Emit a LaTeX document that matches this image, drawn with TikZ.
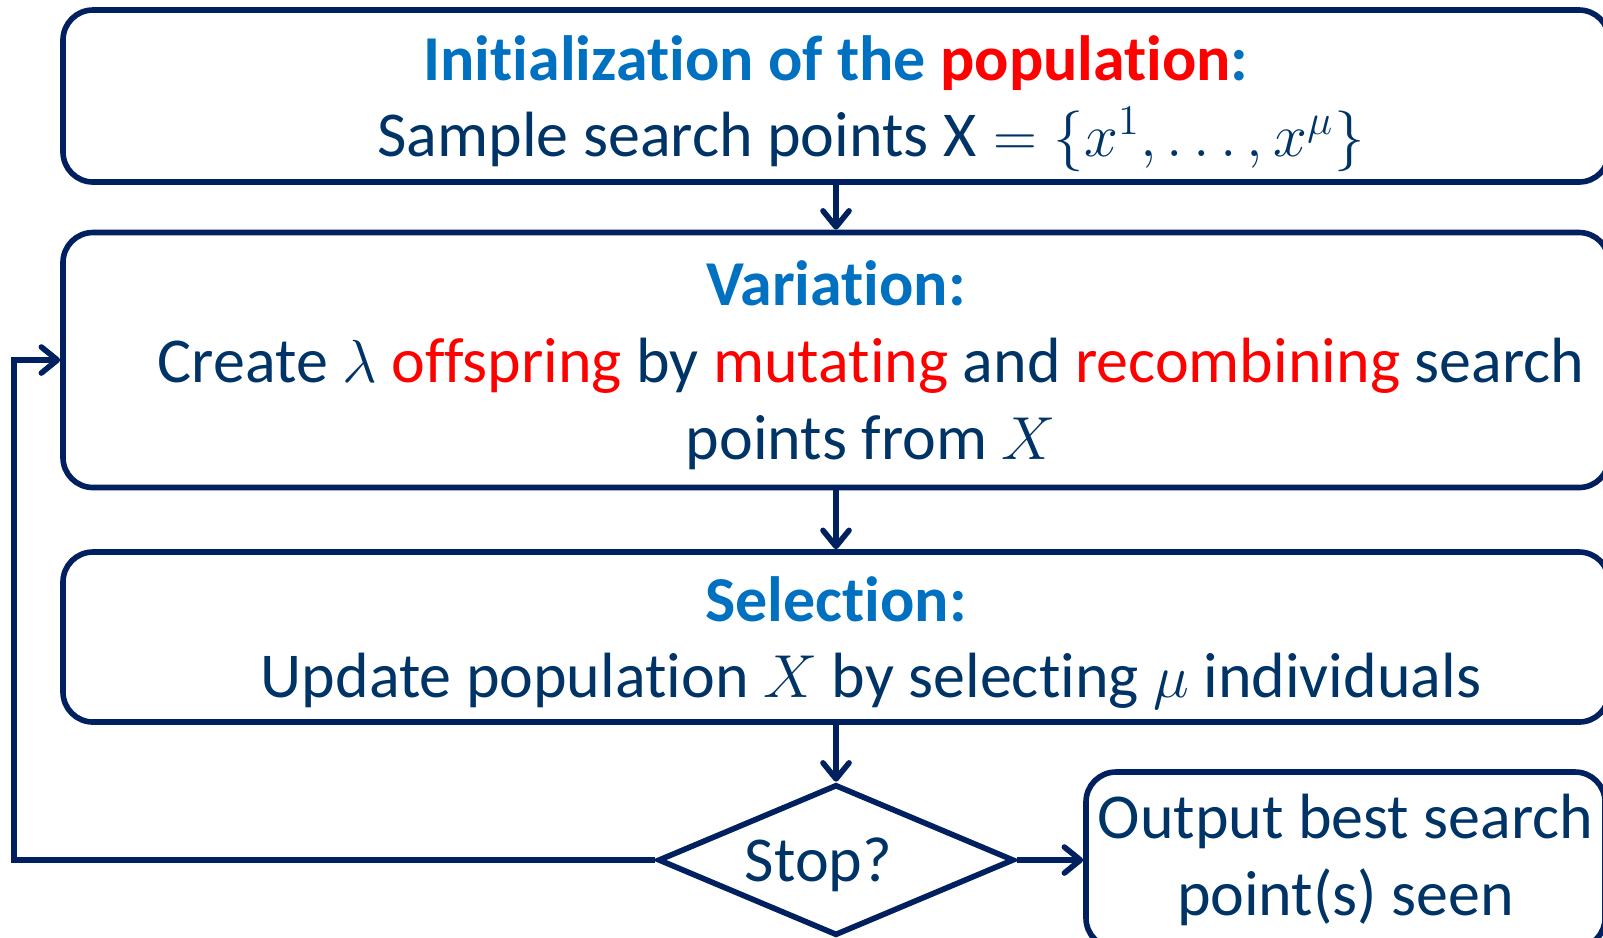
\documentclass[tikz,border=0pt]{standalone}
\usepackage{fontspec}
\setmainfont{Carlito}[Ligatures=NoCommon]
\usepackage{xcolor}
\usepackage{tikz}
\usetikzlibrary{shapes.geometric, positioning, arrows.meta}

\definecolor{navy}{RGB}{0,32,96}
\definecolor{inktext}{RGB}{0,51,102}
\definecolor{headblue}{RGB}{0,112,192}
\definecolor{hotred}{RGB}{255,0,0}

\newcommand{\head}[1]{\textbf{\color{headblue}#1}}
\newcommand{\hot}[1]{\textcolor{hotred}{#1}}
\newcommand{\indt}{\hspace*{0.7cm}}

\begin{document}
\begin{tikzpicture}[
    ->, >={Straight Barb[round, length=0.16cm, width=0.26cm]}, color=navy, line width=1.6pt, node distance=2.64cm, on grid,
    stage/.style={rectangle, rounded corners=0.3cm, draw=navy, text=inktext, minimum width=15.46cm, align=center, font=\fontsize{18.2}{21.8}\selectfont},
    test/.style={diamond, shape aspect=2.36, draw=navy, text=inktext, minimum width=3.56cm, minimum height=1.51cm, inner sep=0pt, font=\fontsize{18.2}{21.8}\selectfont}
]
    \useasboundingbox (0,0) rectangle (16.03,-9.37);

    \node[stage, minimum height=1.72cm, text depth=0pt] (init) at (8.36,-0.96) {\head{Initialization of the \hot{population}:}\\ \indt Sample search points $\mathrm{X}=\{x^1,\dots,x^\mu\}$};
    \node[stage, minimum height=2.55cm, text depth=-0.1cm] (vary) [below=of init] {\head{Variation:}\\ \indt Create $\lambda$ \hot{offspring} by \hot{mutating} and \hot{recombining} search\\ \indt points from $X$};
    \node[stage, minimum height=1.70cm, text depth=0pt] (sel) [below=2.77cm of vary] {\head{Selection:}\\ \indt Update population $X$ by selecting $\mu$ individuals};
    \node[test, text depth=0pt] (stop) [below=2.23cm of sel] {Stop?\hspace*{0.35cm}};
    \node[stage, minimum width=5.17cm, minimum height=1.76cm] (out) [right=5.095cm of stop] {Output best search\\ point(s) seen};
    \coordinate[left=8.22cm of stop] (back);

    \path
        (init) edge (vary)
        (vary) edge (sel)
        (sel) edge (stop)
        (stop) edge (out);
    \draw (stop.west) -- (back) |- (vary.west);
\end{tikzpicture}
\end{document}
